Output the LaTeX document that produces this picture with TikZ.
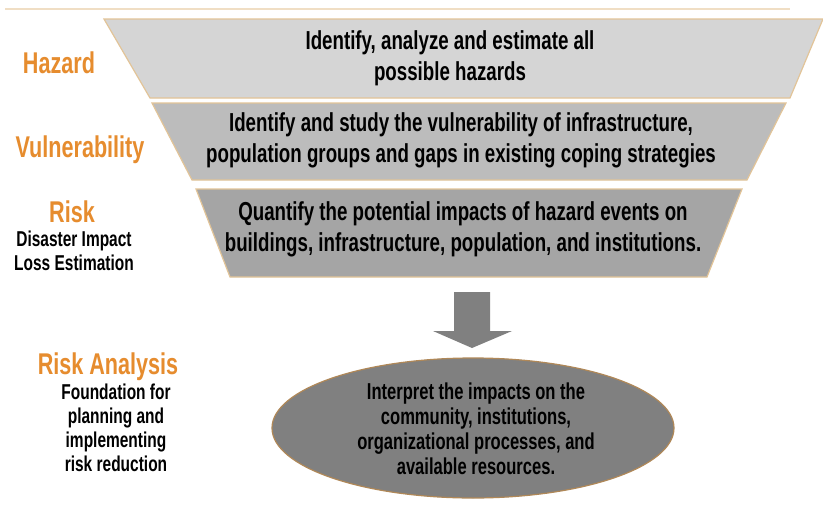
\documentclass[tikz,border=0pt]{standalone}
\usepackage{fontspec}
\setmainfont{Liberation Sans}[FakeStretch=0.72]
\usetikzlibrary{shapes.geometric}
\definecolor{lblorange}{RGB}{230,140,46}
\definecolor{edgetan}{RGB}{226,196,152}
\definecolor{toptan}{RGB}{240,222,196}
\definecolor{trapA}{RGB}{213,213,213}
\definecolor{trapB}{RGB}{188,188,188}
\definecolor{trapC}{RGB}{165,165,165}
\definecolor{ellfill}{RGB}{128,128,128}
\definecolor{elledge}{RGB}{176,136,88}
\definecolor{arrowgray}{RGB}{128,128,128}
\tikzset{
  trapline/.style={draw=edgetan, line width=1.2pt},
  bodytext/.style={align=center, text=black, font=\fontsize{26}{31}\selectfont\bfseries},
  elltext/.style={align=center, text=black, font=\fontsize{23}{25}\selectfont\bfseries},
  stagelbl/.style={text=lblorange, font=\fontsize{30}{32}\selectfont\bfseries},
  sublbl/.style={align=center, text=black, font=\fontsize{21.5}{24}\selectfont\bfseries},
}
\begin{document}
\begin{tikzpicture}[x=1pt,y=-1pt]
\useasboundingbox (0,0) rectangle (823,512);
\fill[white] (0,0) rectangle (823,512);
% top rule
\coordinate (ruleL) at (5,9);
\coordinate (ruleR) at (790,9);
\draw[toptan, line width=1.5pt] (ruleL) -- (ruleR);
% trapezoids
\fill[trapA] (104,19) -- (823,19) -- (790,98) -- (150,98) -- cycle;
\draw[trapline] (823,19) -- (104,19) -- (150,98) -- (790,98) -- (823,19);
\fill[trapB] (152,103) -- (786,103) -- (747,180) -- (192,180) -- cycle;
\draw[trapline] (152,103) -- (786,103) -- (747,180) -- (192,180) -- cycle;
\fill[trapC] (196,189) -- (742,189) -- (707,277) -- (230,277) -- cycle;
\draw[trapline] (196,189) -- (742,189) -- (707,277) -- (230,277) -- cycle;
% trapezoid texts
\node[bodytext] (t1) at (450,58) {Identify, analyze and estimate all\\possible hazards};
\node[bodytext] (t2) at (461,140) {Identify and study the vulnerability of infrastructure,\\population groups and gaps in existing coping strategies};
\node[bodytext] (t3) at (463,229) {Quantify the potential impacts of hazard events on\\buildings, infrastructure, population, and institutions.};
% left labels
\node[stagelbl] (hz) at (59,63) {Hazard};
\node[stagelbl] (vu) at (80,150) {Vulnerability};
\node[stagelbl] (rk) at (72,212) {Risk};
\node[sublbl] (rkd) at (74,251) {Disaster Impact\\Loss Estimation};
\node[stagelbl] (ra) at (108,367) {Risk Analysis};
\node[sublbl] (rad) at (116,428) {Foundation for\\planning and\\implementing\\risk reduction};
% block arrow
\coordinate (aTop) at (472,292);
\fill[arrowgray] (454,292) -- (490,292) -- (490,331) -- (512,331) -- (472,348) -- (433,331) -- (454,331) -- cycle;
% ellipse
\node[ellipse, fill=ellfill, draw=elledge, line width=1.2pt, minimum width=402pt, minimum height=140pt, inner sep=0pt] (ell) at (473,428) {};
\node[elltext] (et) at (476,429) {Interpret the impacts on the\\community, institutions,\\organizational processes, and\\available resources.};
\end{tikzpicture}
\end{document}
